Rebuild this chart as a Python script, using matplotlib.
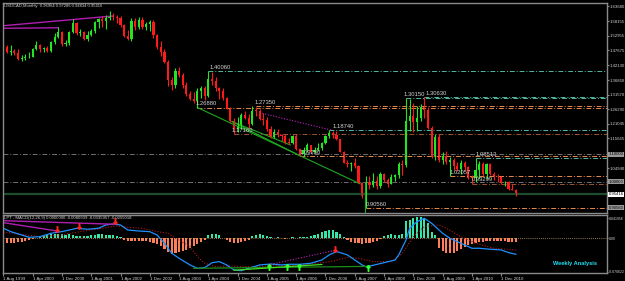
import numpy as np
import matplotlib.pyplot as plt

plt.rcParams['font.family'] = ['Liberation Sans', 'DejaVu Sans']

# monthly USDCAD, Aug 1999 .. Apr 2011 (index 0 = Aug 1999)
opens = [1.4970, 1.4870, 1.4700, 1.4720, 1.4680,
         1.4440, 1.4500, 1.4510, 1.4530, 1.4800, 1.4970, 1.4800, 1.4830, 1.4730, 1.5060, 1.5250, 1.5410,
         1.4990, 1.5010, 1.5430, 1.5770, 1.5390, 1.5440, 1.5170, 1.5320, 1.5460, 1.5800, 1.5880, 1.5840,
         1.5920, 1.6000, 1.5960, 1.5930, 1.5670, 1.5270, 1.5170, 1.5810, 1.5600, 1.5860, 1.5600, 1.5700,
         1.5800, 1.5300, 1.4870, 1.4700, 1.4350, 1.3700, 1.3510, 1.4020, 1.3860, 1.3500, 1.3180, 1.3000,
         1.2920, 1.3270, 1.3380, 1.3100, 1.3720, 1.3640, 1.3380, 1.3300, 1.3040, 1.2640, 1.2200, 1.1900,
         1.2010, 1.2400, 1.2300, 1.2100, 1.2570, 1.2560, 1.2260, 1.2240, 1.1900, 1.1610, 1.1800, 1.1690,
         1.1650, 1.1430, 1.1390, 1.1670, 1.1180, 1.1010, 1.1150, 1.1320, 1.1060, 1.1160, 1.1230, 1.1400,
         1.1650, 1.1780, 1.1700, 1.1530, 1.1070, 1.0690, 1.0640, 1.0670, 1.0560, 0.9950, 0.9470, 0.9990,
         0.9880, 1.0020, 0.9830, 1.0270, 1.0070, 0.9910, 1.0180, 1.0240, 1.0640, 1.0620, 1.2210, 1.2380,
         1.2180, 1.2310, 1.2700, 1.2600, 1.1930, 1.0930, 1.1630, 1.0770, 1.0940, 1.0700, 1.0790, 1.0570,
         1.0470, 1.0690, 1.0530, 1.0150, 1.0140, 1.0410, 1.0640, 1.0290, 1.0650, 1.0290, 1.0200, 1.0190,
         0.9980, 1.0000, 0.9720, 0.9696]
highs = [1.5020, 1.4940, 1.4960, 1.4800, 1.4800,
         1.4600, 1.4620, 1.4700, 1.4850, 1.5100, 1.5000, 1.4900, 1.4930, 1.5100, 1.5390, 1.5600, 1.5450,
         1.5150, 1.5480, 1.5880, 1.5800, 1.5550, 1.5480, 1.5450, 1.5520, 1.5840, 1.5950, 1.6000, 1.6050,
         1.6193, 1.6100, 1.6050, 1.6000, 1.5710, 1.5500, 1.5950, 1.5950, 1.5960, 1.5970, 1.5800, 1.5850,
         1.5850, 1.5350, 1.5100, 1.4800, 1.4400, 1.3800, 1.4120, 1.4140, 1.3950, 1.3600, 1.3300, 1.3250,
         1.3400, 1.3470, 1.3450, 1.4006, 1.3990, 1.3800, 1.3420, 1.3380, 1.3080, 1.2700, 1.2300, 1.2350,
         1.2490, 1.2550, 1.2450, 1.2735, 1.2700, 1.2650, 1.2500, 1.2330, 1.2000, 1.1900, 1.1900, 1.1730,
         1.1720, 1.1590, 1.1700, 1.1720, 1.1230, 1.1250, 1.1400, 1.1330, 1.1250, 1.1400, 1.1440, 1.1690,
         1.1874, 1.1850, 1.1830, 1.1550, 1.1100, 1.0800, 1.0700, 1.0840, 1.0600, 0.9980, 1.0200, 1.0200,
         1.0300, 1.0200, 1.0350, 1.0320, 1.0150, 1.0270, 1.0260, 1.0700, 1.0780, 1.3015, 1.2990, 1.2850,
         1.2750, 1.2830, 1.3063, 1.2700, 1.2000, 1.1720, 1.1720, 1.1080, 1.1100, 1.0900, 1.0860, 1.0720,
         1.0770, 1.0750, 1.0560, 1.0250, 1.0851, 1.0750, 1.0700, 1.0670, 1.0680, 1.0350, 1.0260, 1.0220,
         1.0040, 1.0020, 0.9900, 0.9729]
lows = [1.4780, 1.4650, 1.4600, 1.4580, 1.4420,
        1.4360, 1.4420, 1.4470, 1.4510, 1.4780, 1.4690, 1.4700, 1.4700, 1.4700, 1.5000, 1.5200, 1.4930,
        1.4930, 1.4960, 1.5400, 1.5300, 1.5290, 1.5130, 1.5110, 1.5280, 1.5400, 1.5560, 1.5620, 1.5550,
        1.5860, 1.5850, 1.5750, 1.5620, 1.5250, 1.5120, 1.5100, 1.5500, 1.5550, 1.5550, 1.5500, 1.5450,
        1.5200, 1.4800, 1.4550, 1.4300, 1.3450, 1.3320, 1.3380, 1.3800, 1.3400, 1.3100, 1.2950, 1.2850,
        1.2688, 1.3020, 1.2970, 1.3060, 1.3500, 1.3300, 1.3000, 1.2970, 1.2620, 1.2150, 1.1716, 1.1800,
        1.1950, 1.2280, 1.1960, 1.2060, 1.2380, 1.2230, 1.2050, 1.1830, 1.1580, 1.1580, 1.1630, 1.1470,
        1.1380, 1.1360, 1.1370, 1.1160, 1.0928, 1.0940, 1.1080, 1.1040, 1.1030, 1.1100, 1.1150, 1.1380,
        1.1600, 1.1580, 1.1500, 1.1060, 1.0670, 1.0520, 1.0400, 1.0500, 0.9950, 0.9410, 0.9056, 0.9750,
        0.9800, 0.9720, 0.9770, 0.9980, 0.9790, 0.9900, 1.0010, 1.0150, 1.0230, 1.0520, 1.1850, 1.1800,
        1.1820, 1.2200, 1.2300, 1.1900, 1.0840, 1.0800, 1.0730, 1.0640, 1.0640, 1.0206, 1.0420, 1.0370,
        1.0260, 1.0420, 1.0090, 0.9930, 0.9990, 1.0140, 1.0220, 1.0110, 1.0230, 1.0050, 1.0000, 0.9930,
        0.9860, 0.9700, 0.9690, 0.9483]
closes = [1.4870, 1.4700, 1.4720, 1.4680, 1.4440,
          1.4500, 1.4510, 1.4530, 1.4800, 1.4970, 1.4800, 1.4830, 1.4730, 1.5060, 1.5250, 1.5410, 1.4990,
          1.5010, 1.5430, 1.5770, 1.5390, 1.5440, 1.5170, 1.5320, 1.5460, 1.5800, 1.5880, 1.5840, 1.5920,
          1.6000, 1.5960, 1.5930, 1.5670, 1.5270, 1.5170, 1.5810, 1.5600, 1.5860, 1.5600, 1.5700, 1.5800,
          1.5300, 1.4870, 1.4700, 1.4350, 1.3700, 1.3510, 1.4020, 1.3860, 1.3500, 1.3180, 1.3000, 1.2920,
          1.3270, 1.3380, 1.3100, 1.3720, 1.3640, 1.3380, 1.3300, 1.3040, 1.2640, 1.2200, 1.1900, 1.2010,
          1.2400, 1.2300, 1.2100, 1.2570, 1.2560, 1.2260, 1.2240, 1.1900, 1.1610, 1.1800, 1.1690, 1.1650,
          1.1430, 1.1390, 1.1670, 1.1180, 1.1010, 1.1150, 1.1320, 1.1060, 1.1160, 1.1230, 1.1400, 1.1650,
          1.1780, 1.1700, 1.1530, 1.1070, 1.0690, 1.0640, 1.0670, 1.0560, 0.9950, 0.9470, 0.9990, 0.9880,
          1.0020, 0.9830, 1.0270, 1.0070, 0.9910, 1.0180, 1.0240, 1.0640, 1.0620, 1.2210, 1.2380, 1.2180,
          1.2310, 1.2700, 1.2600, 1.1930, 1.0930, 1.1630, 1.0770, 1.0940, 1.0700, 1.0790, 1.0570, 1.0470,
          1.0690, 1.0530, 1.0150, 1.0140, 1.0410, 1.0640, 1.0290, 1.0650, 1.0290, 1.0200, 1.0190, 0.9980,
          1.0000, 0.9720, 0.9700, 0.9542]

# MACD panel
osma = [-0.010, -0.010, -0.010, -0.009, -0.008, -0.007, -0.006, -0.004, -0.002, 0.001,
        0.004, 0.005, 0.006, 0.008, 0.009, 0.010, 0.008, 0.007, 0.009,
        0.007, 0.005, 0.005, 0.004,
        0.005, 0.006, 0.007, 0.008, 0.008, 0.007, 0.007, 0.006, 0.004, 0.002,
        -0.003, -0.005, -0.006, -0.006, -0.005, -0.006, -0.006, -0.007, -0.009, -0.012,
        -0.016, -0.022, -0.028, -0.032, -0.031, -0.029, -0.027, -0.024, -0.021, -0.017, -0.012, -0.008, -0.004,
        0.006, 0.009, 0.008, 0.006, 0.001,
        -0.004, -0.007, -0.009, -0.009, -0.008, -0.006, -0.003,
        0.004, 0.007, 0.008, 0.007, 0.005,
        0.002, 0.001, 0.002, 0.001, -0.001, 0.001, 0.002, 0.001, 0.002, 0.002, 0.002,
        0.004, 0.007, 0.010, 0.013, 0.016, 0.017, 0.017, 0.014, 0.009, 0.003,
        -0.004, -0.007, -0.009, -0.010, -0.011, -0.010, -0.009, -0.007, -0.005, -0.002,
        0.005, 0.007, 0.008, 0.006, 0.007, 0.010,
        0.036, 0.039, 0.043, 0.045, 0.044, 0.040, 0.033, 0.014, 0.007,
        -0.021, -0.026, -0.030, -0.031, -0.030, -0.026, -0.022, -0.018, -0.014, -0.012, -0.010,
        -0.008, -0.007, -0.006, -0.005, -0.006, -0.006, -0.005, -0.006, -0.007, -0.008, -0.008]

macd_months = [0, 2, 5, 7, 10, 13, 16, 18, 20, 23, 26, 28, 30, 32, 34, 37, 40, 42, 44, 46, 48,
               51, 53, 55, 57, 59, 61, 63, 65, 67, 70, 73, 76, 78, 81, 84, 87, 89, 91, 92, 94,
               96, 98, 99, 101, 104, 107, 108, 110, 111, 113, 115, 117, 118, 120, 122, 125, 128,
               130, 133, 136, 138, 140]
macd_values = [0.021, 0.014, 0.007, 0.002, 0.0034, 0.0105, 0.014, 0.0174, 0.021, 0.019, 0.021,
               0.028, 0.030, 0.028, 0.0174, 0.0153, 0.0139, 0.0069, -0.0105, -0.0315, -0.042,
               -0.056, -0.063, -0.0617, -0.0512, -0.049, -0.056, -0.0666, -0.068, -0.063, -0.056,
               -0.054, -0.056, -0.0546, -0.0546, -0.0525, -0.0456, -0.035, -0.028, -0.030, -0.035,
               -0.0456, -0.056, -0.0596, -0.0567, -0.0512, -0.0456, -0.035, -0.0036, 0.021, 0.035,
               0.042, 0.0315, 0.0245, 0.0105, 0.0, -0.0105, -0.021, -0.021, -0.023, -0.0245,
               -0.030, -0.0336]
signal_months = [0, 5, 10, 16, 21, 27, 31, 34, 38, 42, 45, 47, 51, 53, 55, 58, 62, 65, 69, 73,
                 80, 86, 90, 94, 97, 101, 106, 109, 112, 115, 119, 121, 125, 129, 134, 140]
signal_values = [0.013, 0.008, 0.0034, 0.007, 0.014, 0.021, 0.026, 0.023, 0.021, 0.014, 0.0105,
                 0.0, -0.0175, -0.0385, -0.0525, -0.0595, -0.058, -0.0595, -0.0595, -0.058, -0.057,
                 -0.0525, -0.048, -0.040, -0.042, -0.049, -0.049, -0.0315, 0.0034, 0.0245, 0.028,
                 0.021, 0.0034, -0.0105, -0.021, -0.0245]

# horizontal levels: (price, first month, kind)
levels = [(1.40060, 56, 'teal'), (1.30630, 115, 'teal'), (1.30150, 110, 'teal'),
          (1.27350, 69, 'orange'), (1.26880, 53, 'orange'), (1.18740, 89, 'teal'),
          (1.17160, 63, 'brown'), (1.09280, 81, 'orange'), (1.08513, 129, 'teal'),
          (1.02057, 122, 'orange'), (0.99299, 128, 'brown'), (0.90560, 99, 'orange')]
level_labels = [(1.40060, 56.3), (1.30150, 109.4), (1.30630, 115.2), (1.27350, 68.6),
                (1.26880, 52.6), (1.18740, 89.8), (1.17160, 62.4), (1.09280, 81.0),
                (1.08513, 129.0), (1.02057, 121.8), (0.99299, 128.0), (0.90560, 99.0)]
round_levels = [1.10000, 1.00000]
last_price = 0.95416

price_ticks = [1.63680, 1.58155, 1.52955, 1.47675, 1.42130, 1.36850, 1.31570,
               1.26290, 1.21045, 1.15665, 1.04940]
x_labels = ['1 Aug 1999', '1 Apr 2000', '1 Dec 2000', '1 Aug 2001', '1 Apr 2002',
            '1 Dec 2002', '1 Aug 2003', '1 Apr 2004', '1 Dec 2004', '1 Aug 2005',
            '1 Apr 2006', '1 Dec 2006', '1 Aug 2007', '1 Apr 2008', '1 Dec 2008',
            '1 Aug 2009', '1 Apr 2010', '1 Dec 2010']

# hand drawn objects (month, price)
purple_lines = [[(0, 1.5654), (30, 1.6006)], [(0, 1.5560), (15, 1.5580)]]
green_lines = [[(53, 1.2688), (97.5, 0.9916)], [(62.5, 1.2175), (78.4, 1.1330)],
               [(62.5, 1.2175), (81.2, 1.0928)]]
dotted_line = [(70, 1.2500), (89.5, 1.1874)]
macd_purple = [[(0, 0.0370), (30.6, 0.0294)], [(0, 0.0328), (14.7, 0.0153)]]
macd_green = [[(52, -0.063), (99.5, -0.059)], [(63, -0.067), (87, -0.055)]]
macd_dotted = [(72.4, -0.056), (90.7, -0.025)]
down_arrows = [(14.7, 0.0195), (20.6, 0.0265), (30.6, 0.037), (90.7, -0.022)]
up_arrows = [(72.5, -0.060), (77.5, -0.061), (80.7, -0.061), (99.7, -0.063)]

W, H = 625, 281
fig = plt.figure(figsize=(W / 100, H / 100), dpi=100, facecolor='black')


def px_axes(l, t, r, b):
    return fig.add_axes([l / W, 1 - b / H, (r - l) / W, (b - t) / H])


ax = px_axes(3, 3, 607, 213)
ax2 = px_axes(3, 215, 607, 273)
grey = '#8a8a8a'
txt = '#d4d4d4'
for a in (ax, ax2):
    a.set_facecolor('black')
    a.set_xlim(-0.1, 164.9)
    for s in a.spines.values():
        s.set_color(grey)
        s.set_linewidth(1.0)

colors = {'teal': '#4fb8a0', 'orange': '#e8894a', 'brown': '#9a5530'}
dash = (0, (5, 2, 1, 2))

ax.set_ylim(0.8864, 1.6477)
for lv in round_levels:
    ax.axhline(lv, color='#707070', lw=0.7, ls=dash)
ax.axhline(last_price, color='#1f4d2e', lw=1.6)
for price, start, kind in levels:
    ax.hlines(price, start, 164.9, color=colors[kind], lw=0.7, ls=dash)
for price, xpos in level_labels:
    ax.text(xpos, price + 0.004, f'{price:.5f}', fontsize=4.2, color=txt, va='bottom', ha='left')

for seg in purple_lines:
    xs, ys = zip(*seg)
    ax.plot(xs, ys, color='#b01eb0', lw=1.0)
for seg in green_lines:
    xs, ys = zip(*seg)
    ax.plot(xs, ys, color='#1fa81f', lw=0.8)
xs, ys = zip(*dotted_line)
ax.plot(xs, ys, color='#c020c0', lw=0.8, ls=(0, (1, 1.5)))
ax.vlines(98.8, 0.8864, 0.995, color='#1fa81f', lw=0.8)

o, h, l, c = map(np.array, (opens, highs, lows, closes))
months = np.arange(len(c))
cols = np.where(c >= o, '#22e622', '#ff1a1a')
ax.vlines(months, l, h, colors=cols, lw=0.8)
ax.bar(months, np.maximum(np.abs(c - o), 0.002), bottom=np.minimum(o, c), width=0.6,
       color=cols, linewidth=0)

ax.yaxis.tick_right()
ax.set_yticks(price_ticks)
ax.set_yticklabels([f'{v:.5f}' for v in price_ticks])
ax.tick_params(axis='y', colors=grey, labelcolor=txt, labelsize=3.1, length=1.2, pad=0.4)
ax.set_xticks([])
tr = ax.get_yaxis_transform()
for lv in round_levels + [0.90560]:
    ax.text(1.003, lv, f'{lv:.5f}', transform=tr, fontsize=3.1, color='black', va='center',
            ha='left', bbox=dict(facecolor='#9a9a9a', edgecolor='none', pad=0.4))
ax.text(1.003, last_price, f'{last_price:.5f}', transform=tr, fontsize=3.1, color='black',
        va='center', ha='left', bbox=dict(facecolor='white', edgecolor='none', pad=0.4))
ax.text(0.002, 0.993, 'USDCAD,Monthly  0.96964 0.97286 0.94834 0.95416', transform=ax.transAxes,
        fontsize=3.0, color=txt, va='top', ha='left')

# MACD panel
ax2.set_ylim(-0.0729, 0.0489)
hv = np.array(osma)
ax2.bar(np.arange(len(hv)), hv, width=0.6, color=np.where(hv >= 0, '#35e6a8', '#ff7f58'),
        linewidth=0)
ax2.axhline(0, color='#c8a060', lw=0.6, ls=(0, (1, 1.5)))
ax2.plot(signal_months, signal_values, color='#b01818', lw=0.8, ls=(0, (1, 1.5)))
ax2.plot(macd_months, macd_values, color='#1e90ff', lw=0.9)
for seg in macd_purple:
    xs, ys = zip(*seg)
    ax2.plot(xs, ys, color='#b01eb0', lw=1.0)
for seg, col in zip(macd_green, ['#1c8c1c', '#44dd22']):
    xs, ys = zip(*seg)
    ax2.plot(xs, ys, color=col, lw=0.9)
xs, ys = zip(*macd_dotted)
ax2.plot(xs, ys, color='#c020c0', lw=0.8, ls=(0, (1, 1.5)))
xs, ys = zip(*down_arrows)
ax2.plot(xs, ys, ls='none', marker=r'$\downarrow$', color='#ff2020', ms=4)
xs, ys = zip(*up_arrows)
ax2.plot(xs, ys, ls='none', marker=r'$\uparrow$', color='#33ff33', ms=4)

ax2.yaxis.tick_right()
ax2.set_yticks([0.041956, 0.0, -0.070622])
ax2.set_yticklabels(['0.041956', '0.00', '-0.070622'])
ax2.tick_params(axis='y', colors=grey, labelcolor=txt, labelsize=2.5, length=1.0, pad=0.3)
ax2.set_xticks(np.arange(0, 8 * len(x_labels), 8))
ax2.set_xticklabels(x_labels, ha='left')
ax2.tick_params(axis='x', colors=grey, labelcolor=txt, labelsize=3.2, length=2, pad=1)
ax2.text(0.002, 0.95, 'LPT - MACD(12,26,9) 0.0000000 -0.0080939 -0.0335957 -0.0255018',
         transform=ax2.transAxes, fontsize=3.1, color=txt, va='center', ha='left')
ax2.text(0.9106, 0.16, 'Weekly Analysis', transform=ax2.transAxes, fontsize=4.1,
         fontweight='bold', color='#1ee3f5', va='center', ha='left')

fig.savefig('out.png', dpi=100, facecolor='black')
